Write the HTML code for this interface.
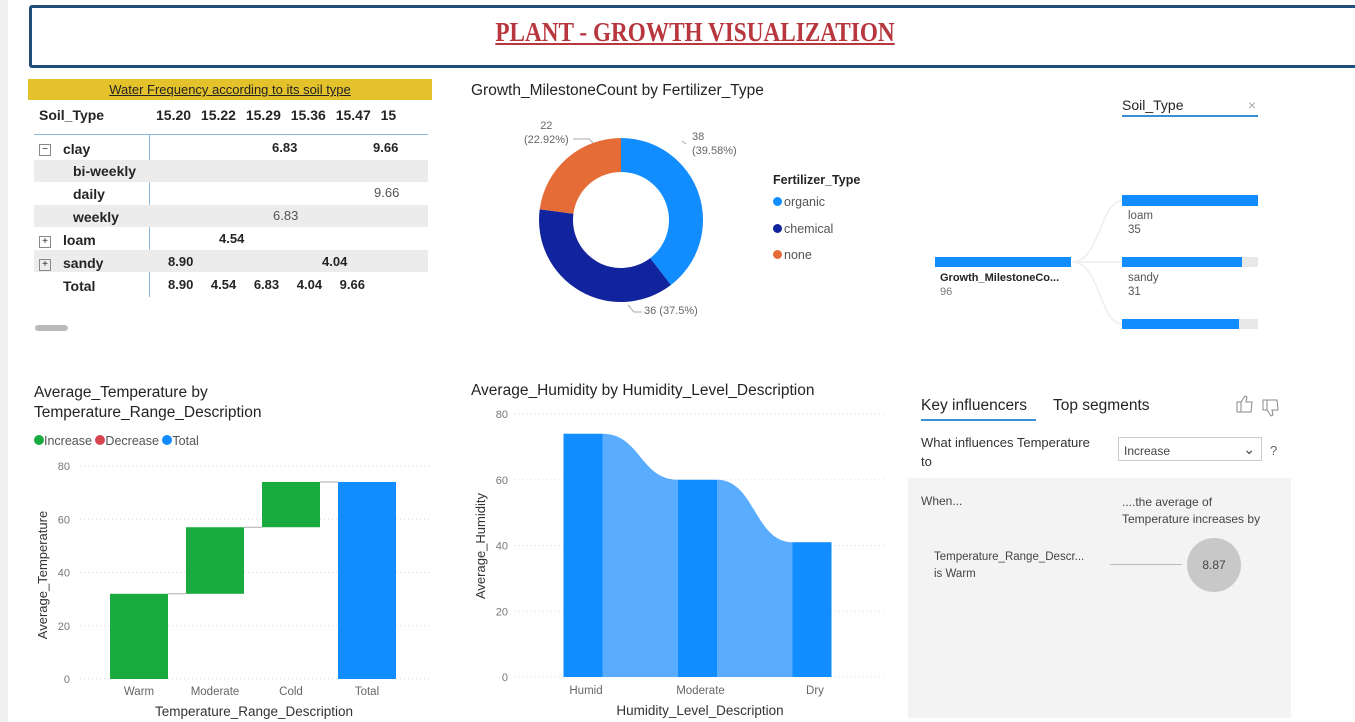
<!DOCTYPE html>
<html><head><meta charset="utf-8">
<style>
body{margin:0;width:1355px;height:722px;background:#fff;font-family:"Liberation Sans",sans-serif;position:relative;overflow:hidden;color:#252423}
.a{position:absolute;white-space:nowrap}
svg{position:absolute;left:0;top:0}
</style></head><body>
<div class="a" style="left:0;top:0;width:8px;height:722px;background:#f0f0f0"></div>
<div class="a" style="left:29px;top:5px;width:1340px;height:57px;border:3px solid #1f4e79;border-radius:3px;background:#fff"></div>
<div class="a" style="left:0;width:1390px;top:17px;text-align:center;font-family:'Liberation Serif',serif;font-weight:bold;font-size:27px;color:#b8373f;text-decoration:underline;transform:scaleX(0.86)">PLANT - GROWTH VISUALIZATION</div>

<!-- Matrix -->
<div class="a" style="left:28px;top:79px;width:404px;height:21px;background:#e3c22c;text-align:center;font-size:13px;line-height:21px;text-decoration:underline;color:#222">Water Frequency according to its soil type</div>
<div style="position:absolute;left:0;top:0;font-size:14px;font-weight:bold">
<div class="a" style="left:39px;top:107px">Soil_Type</div>
<div class="a" style="left:156px;top:107px;word-spacing:6px">15.20 15.22 15.29 15.36 15.47 15</div>
<div class="a" style="left:34px;top:134px;width:394px;height:1px;background:#8ab8de"></div>
<div class="a" style="left:149px;top:135px;width:1px;height:162px;background:#8ab8de"></div>
<div class="a" style="left:34px;top:160px;width:394px;height:22px;background:#ececec"></div>
<div class="a" style="left:34px;top:205px;width:394px;height:22px;background:#ececec"></div>
<div class="a" style="left:34px;top:250px;width:394px;height:22px;background:#ececec"></div>
<div class="a" style="left:39px;top:144px;width:10px;height:10px;border:1px solid #888;font-size:10px;line-height:9px;text-align:center;font-weight:normal">−</div>
<div class="a" style="left:63px;top:141px">clay</div>
<div class="a" style="left:272px;top:140px;font-size:13px">6.83</div><div class="a" style="left:373px;top:140px;font-size:13px">9.66</div>
<div class="a" style="left:73px;top:163px">bi-weekly</div>
<div class="a" style="left:73px;top:186px">daily</div><div class="a" style="left:374px;top:185px;font-size:13px;font-weight:normal;color:#555">9.66</div>
<div class="a" style="left:73px;top:209px">weekly</div><div class="a" style="left:273px;top:208px;font-size:13px;font-weight:normal;color:#555">6.83</div>
<div class="a" style="left:39px;top:236px;width:10px;height:10px;border:1px solid #888;font-size:10px;line-height:9px;text-align:center;font-weight:normal">+</div>
<div class="a" style="left:63px;top:232px">loam</div><div class="a" style="left:219px;top:231px;font-size:13px">4.54</div>
<div class="a" style="left:39px;top:259px;width:10px;height:10px;border:1px solid #888;font-size:10px;line-height:9px;text-align:center;font-weight:normal">+</div>
<div class="a" style="left:63px;top:255px">sandy</div><div class="a" style="left:168px;top:254px;font-size:13px">8.90</div><div class="a" style="left:322px;top:254px;font-size:13px">4.04</div>
<div class="a" style="left:63px;top:278px">Total</div>
<div class="a" style="left:168px;top:277px;font-size:13px;word-spacing:14px">8.90 4.54 6.83 4.04 9.66</div>
</div>
<div class="a" style="left:35px;top:325px;width:33px;height:6px;border-radius:3px;background:#bbb"></div>

<!-- Donut -->
<div class="a" style="left:471px;top:82px;font-size:15.5px">Growth_MilestoneCount by Fertilizer_Type</div>
<svg width="1355" height="722" id="donut"></svg>
<div class="a" style="left:524px;top:119px;font-size:11px;color:#666;line-height:14px;text-align:center">22<br>(22.92%)</div>
<div class="a" style="left:692px;top:130px;font-size:11px;color:#666;line-height:14px">38<br>(39.58%)</div>
<div class="a" style="left:644px;top:305px;font-size:11px;color:#666">36 (37.5%)</div>
<svg width="1355" height="722">
<path d="M573 139 L589 139 L593 143 M686 144 L682 141 M628 305 L634 312 L642 312" stroke="#aaa" fill="none"/>
</svg>
<div class="a" style="left:773px;top:173px;font-size:12.5px;font-weight:bold">Fertilizer_Type</div>
<div class="a" style="left:773px;top:195px;font-size:12.5px;color:#555"><span style="display:inline-block;width:9px;height:9px;border-radius:50%;background:#118DFF;margin-right:2px"></span>organic</div>
<div class="a" style="left:773px;top:222px;font-size:12.5px;color:#555"><span style="display:inline-block;width:9px;height:9px;border-radius:50%;background:#12239E;margin-right:2px"></span>chemical</div>
<div class="a" style="left:773px;top:248px;font-size:12.5px;color:#555"><span style="display:inline-block;width:9px;height:9px;border-radius:50%;background:#E66C37;margin-right:2px"></span>none</div>

<!-- Decomposition tree -->
<div class="a" style="left:1122px;top:97px;font-size:14px">Soil_Type</div>
<div class="a" style="left:1248px;top:97px;font-size:14px;color:#aaa">×</div>
<div class="a" style="left:1122px;top:115px;width:136px;height:2px;background:#3a8fd6"></div>
<svg width="1355" height="722">
<path d="M1072 262 C1100 262,1100 201,1122 201 M1072 262 L1122 262 M1072 262 C1100 262,1100 324,1122 324" stroke="#eee" stroke-width="1.5" fill="none"/>
</svg>
<div class="a" style="left:935px;top:257px;width:136px;height:10px;background:#118DFF"></div>
<div class="a" style="left:940px;top:272px;font-size:11px;font-weight:bold">Growth_MilestoneCo...</div>
<div class="a" style="left:940px;top:286px;font-size:11px;color:#777">96</div>
<div class="a" style="left:1122px;top:195px;width:136px;height:11px;background:#118DFF"></div>
<div class="a" style="left:1128px;top:209px;font-size:11.5px;color:#555;line-height:14px">loam<br>35</div>
<div class="a" style="left:1122px;top:257px;width:136px;height:10px;background:#e8e8e8"></div>
<div class="a" style="left:1122px;top:257px;width:120px;height:10px;background:#118DFF"></div>
<div class="a" style="left:1128px;top:271px;font-size:11.5px;color:#555;line-height:14px">sandy<br>31</div>
<div class="a" style="left:1122px;top:319px;width:136px;height:10px;background:#e8e8e8"></div>
<div class="a" style="left:1122px;top:319px;width:117px;height:10px;background:#118DFF"></div>

<!-- Waterfall -->
<div class="a" style="left:34px;top:383px;font-size:15.5px;line-height:20px">Average_Temperature by<br>Temperature_Range_Description</div>
<div class="a" style="left:34px;top:434px;font-size:12.5px;color:#555"><span style="display:inline-block;width:10px;height:10px;border-radius:50%;background:#1AAB40"></span>Increase <span style="display:inline-block;width:10px;height:10px;border-radius:50%;background:#D64550"></span>Decrease <span style="display:inline-block;width:10px;height:10px;border-radius:50%;background:#118DFF"></span>Total</div>
<svg width="1355" height="722" id="wf"></svg>

<!-- Humidity ribbon -->
<div class="a" style="left:471px;top:382px;font-size:15.5px">Average_Humidity by Humidity_Level_Description</div>
<svg width="1355" height="722" id="hum"></svg>

<!-- Key influencers -->
<div class="a" style="left:921px;top:397px;font-size:15.5px">Key influencers</div>
<div class="a" style="left:921px;top:419px;width:115px;height:2px;background:#3a8fd6"></div>
<div class="a" style="left:1053px;top:397px;font-size:15.5px">Top segments</div>
<svg width="1355" height="722">
<path d="M1237 412 L1237 402 L1241 402 L1245 396 L1247 397 L1246 402 L1252 402 L1251 412 Z M1241 402 L1241 412" stroke="#888" fill="none"/>
<path d="M1263 400 L1263 410 L1267 410 L1271 416 L1273 415 L1272 410 L1278 410 L1277 400 Z M1267 410 L1267 400" stroke="#888" fill="none"/>
</svg>
<div class="a" style="left:921px;top:433px;font-size:13px;line-height:19px;color:#333">What influences Temperature<br>to</div>
<div class="a" style="left:1118px;top:437px;width:144px;height:24px;border:1px solid #ccc;font-size:12px;line-height:26px;color:#444;box-sizing:border-box;padding-left:5px">Increase<span style="position:absolute;right:6px;top:-2px;font-size:14px">⌄</span></div>
<div class="a" style="left:1270px;top:443px;font-size:13px;color:#666">?</div>
<div class="a" style="left:908px;top:478px;width:383px;height:240px;background:#f3f3f3"></div>
<div class="a" style="left:921px;top:494px;font-size:12px;color:#444">When...</div>
<div class="a" style="left:1122px;top:494px;font-size:12px;color:#444;line-height:17px">....the average of<br>Temperature increases by</div>
<div class="a" style="left:934px;top:549px;font-size:11.5px;color:#444;line-height:17px">Temperature_Range_Descr...<br>is Warm</div>
<div class="a" style="left:1110px;top:564px;width:72px;height:1px;background:#bbb"></div>
<div class="a" style="left:1187px;top:538px;width:54px;height:54px;border-radius:50%;background:#c8c8c8;text-align:center;line-height:54px;font-size:12px;color:#444">8.87</div>

<script>
const NS='http://www.w3.org/2000/svg';
function mk(p,t,a,txt){const e=document.createElementNS(NS,t);for(const k in a)e.setAttribute(k,a[k]);if(txt!==undefined)e.textContent=txt;p.appendChild(e);return e;}

// Donut data
const fertCats=['organic','chemical','none'];
const fertVals=[38,36,22];
const fertColors=['#118DFF','#12239E','#E66C37'];
(function(){
  const s=document.getElementById('donut');const cx=621,cy=220,R=82,r=48;
  const tot=fertVals.reduce((a,b)=>a+b,0);let a0=-Math.PI/2;
  fertVals.forEach((v,i)=>{
    const a1=a0+v/tot*2*Math.PI;const lg=(a1-a0)>Math.PI?1:0;
    const p=(rr,a)=>[cx+rr*Math.cos(a),cy+rr*Math.sin(a)];
    const [x1,y1]=p(R,a0),[x2,y2]=p(R,a1),[x3,y3]=p(r,a1),[x4,y4]=p(r,a0);
    const e=mk(s,'path',{d:`M${x1} ${y1}A${R} ${R} 0 ${lg} 1 ${x2} ${y2}L${x3} ${y3}A${r} ${r} 0 ${lg} 0 ${x4} ${y4}Z`,fill:fertColors[i]});
    
    
    a0=a1;
  });
})();

// Waterfall data
const tempCats=['Warm','Moderate','Cold'];
const tempDeltas=[32,25,17];
const tempTicks=[0,20,40,60,80];
(function(){
  const s=document.getElementById('wf');
  const y=v=>679-v*(213/80);const x0=139,step=76,bw=58;
  tempTicks.forEach(t=>{mk(s,'line',{x1:80,x2:430,y1:y(t),y2:y(t),stroke:'#ddd','stroke-dasharray':'1 3'});
    mk(s,'text',{x:70,y:y(t)+4,'font-size':11,fill:'#777','text-anchor':'end'},t);});
  let cum=0;
  const cats=tempCats.concat(['Total']);
  tempDeltas.forEach((d,i)=>{const cx=x0+i*step;
    const b=mk(s,'rect',{x:cx-bw/2,y:y(cum+d),width:bw,height:y(cum)-y(cum+d),fill:'#1AAB40'});
    
    
    mk(s,'line',{x1:cx+bw/2,x2:cx+step-bw/2,y1:y(cum+d),y2:y(cum+d),stroke:'#aaa'});
    cum+=d;});
  const cx=x0+tempDeltas.length*step;
  const t=mk(s,'rect',{x:cx-bw/2,y:y(cum),width:bw,height:y(0)-y(cum),fill:'#118DFF'});
  
  
  cats.forEach((c,i)=>mk(s,'text',{x:x0+i*step,y:695,'font-size':11.5,fill:'#666','text-anchor':'middle'},c));
  mk(s,'text',{x:254,y:716,'font-size':13.5,fill:'#333','text-anchor':'middle'},'Temperature_Range_Description');
  mk(s,'text',{x:47,y:575,'font-size':13,fill:'#333','text-anchor':'middle',transform:'rotate(-90 47 575)'},'Average_Temperature');
})();

// Humidity ribbon data
const humCats=['Humid','Moderate','Dry'];
const humVals=[74,60,41];
const humTicks=[0,20,40,60,80];
(function(){
  const s=document.getElementById('hum');
  const y=v=>677-v*(263/80);const x0=583,step=114.5,bw=39;
  humTicks.forEach(t=>{mk(s,'line',{x1:515,x2:885,y1:y(t),y2:y(t),stroke:'#ddd','stroke-dasharray':'1 3'});
    mk(s,'text',{x:508,y:y(t)+4,'font-size':11,fill:'#777','text-anchor':'end'},t);});
  for(let i=0;i<humVals.length-1;i++){
    const xa=x0+i*step+bw/2,xb=x0+(i+1)*step-bw/2,m=(xa+xb)/2;
    const ya=y(humVals[i]),yb=y(humVals[i+1]);
    const r=mk(s,'path',{d:`M${xa} ${ya}C${m} ${ya},${m} ${yb},${xb} ${yb}L${xb} ${y(0)}L${xa} ${y(0)}Z`,fill:'#5AACFF'});
    
    
  }
  humVals.forEach((v,i)=>{const cx=x0+i*step;
    const b=mk(s,'rect',{x:cx-bw/2,y:y(v),width:bw,height:y(0)-y(v),fill:'#118DFF'});
    
    
    mk(s,'text',{x:cx+3,y:694,'font-size':11.5,fill:'#666','text-anchor':'middle'},humCats[i]);});
  mk(s,'text',{x:700,y:715,'font-size':13.5,fill:'#333','text-anchor':'middle'},'Humidity_Level_Description');
  mk(s,'text',{x:485,y:546,'font-size':13,fill:'#333','text-anchor':'middle',transform:'rotate(-90 485 546)'},'Average_Humidity');
})();
</script>
</body></html>
